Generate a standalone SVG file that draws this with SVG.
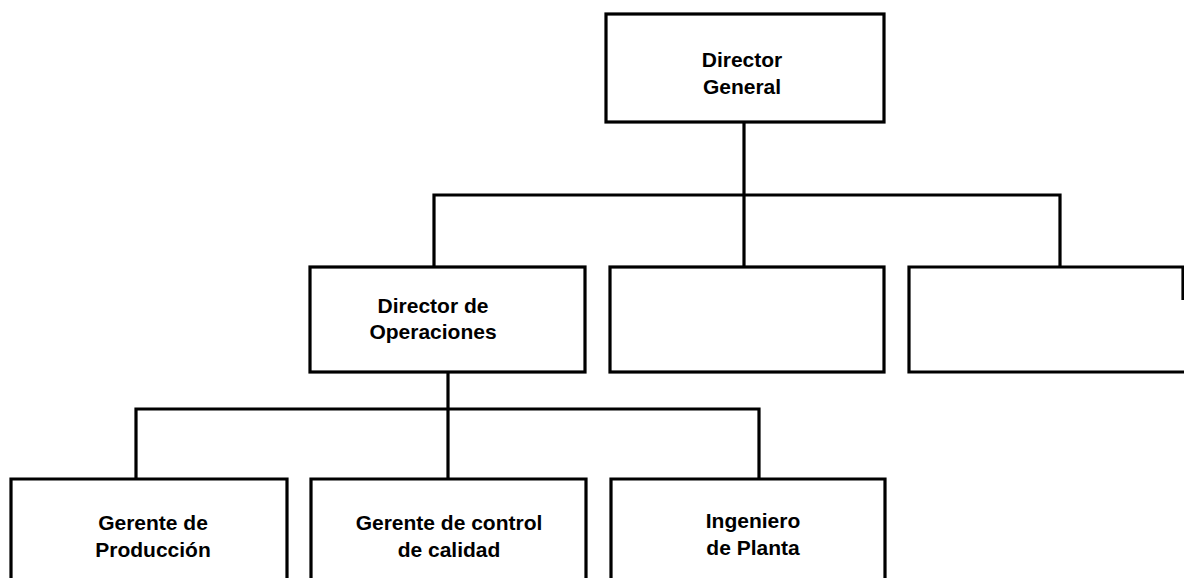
<svg xmlns="http://www.w3.org/2000/svg" width="1184" height="578" viewBox="0 0 1184 578">
<style>
.box{fill:#fff;stroke:#000;stroke-width:3.2;}
.ln{fill:none;stroke:#000;stroke-width:3.2;}
.t{font-family:"Liberation Sans",Arial,sans-serif;font-size:21px;font-weight:bold;fill:#000;text-anchor:middle;}
</style>
<rect width="1184" height="578" fill="#fff"/>
<g id="connectors">
<path class="ln" d="M744,122 V195"/>
<path class="ln" d="M434,267 V195 H1060 V267"/>
<path class="ln" d="M744,195 V267"/>
<path class="ln" d="M448,372 V409"/>
<path class="ln" d="M136,479 V409 H759 V479"/>
<path class="ln" d="M448,409 V479"/>
</g>
<g id="director-general">
<rect class="box" x="606" y="14" width="278" height="108"/>
<text class="t" x="742" y="67">Director</text>
<text class="t" x="742" y="94">General</text>
</g>
<g id="director-operaciones">
<rect class="box" x="310" y="267" width="275" height="105"/>
<text class="t" x="433" y="313">Director de</text>
<text class="t" x="433" y="339">Operaciones</text>
</g>
<g id="box-vacio-1">
<rect class="box" x="610" y="267" width="274" height="105"/>
</g>
<g id="box-vacio-2">
<path class="box" d="M1183,300 V267 H909 V372 H1184"/>
</g>
<g id="gerente-produccion">
<path class="box" d="M11,580 V479 H287 V580"/>
<text class="t" x="153" y="530">Gerente de</text>
<text class="t" x="153" y="557">Producción</text>
</g>
<g id="gerente-calidad">
<path class="box" d="M311,580 V479 H586 V580"/>
<text class="t" x="449" y="530">Gerente de control</text>
<text class="t" x="449" y="557">de calidad</text>
</g>
<g id="ingeniero-planta">
<path class="box" d="M611,580 V479 H885 V580"/>
<text class="t" x="753" y="528">Ingeniero</text>
<text class="t" x="753" y="555">de Planta</text>
</g>
</svg>
